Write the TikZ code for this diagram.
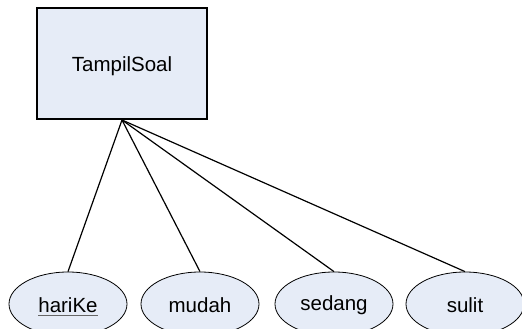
\documentclass[tikz,border=0pt]{standalone}
\usepackage{fontspec}
\setmainfont{Liberation Sans}
\usetikzlibrary{shapes.geometric}
\definecolor{boxfill}{HTML}{E6ECF7}
\definecolor{ulgray}{HTML}{666666}
\tikzset{
  entity/.style={draw=black, line width=2pt, fill=boxfill, minimum width=170pt, minimum height=111pt, inner sep=0pt, font=\fontsize{20.5}{24}\selectfont},
  attr/.style={ellipse, draw=black, line width=0.8pt, fill=boxfill, minimum width=118pt, minimum height=64pt, inner sep=0pt, font=\fontsize{20.5}{24}\selectfont},
  lbl/.style={inner sep=0pt, font=\fontsize{20.5}{24}\selectfont},
  link/.style={draw=black, line width=1.2pt}
}
\begin{document}
\begin{tikzpicture}[x=1pt,y=-1pt]
\useasboundingbox (0,0) rectangle (522,329);
\node[entity] (box) at (122,63.5) {};
\node[lbl] (boxt) at (122,66) {TampilSoal};
\node[attr] (h) at (68,304) {};
\node[lbl] (ht) at (68,305) {hariKe};
\draw[ulgray, line width=1.2pt] ([yshift=-3pt]ht.south west) -- ([yshift=-3pt]ht.south east);
\node[attr] (m) at (200,304) {};
\node[lbl] at (200,305) {mudah};
\node[attr] (s) at (334,304) {};
\node[lbl] at (334,305) {sedang};
\node[attr] (u) at (465,304) {};
\node[lbl] at (465,305) {sulit};
\draw[link] (box.south) -- (h.north);
\draw[link] (box.south) -- (m.north);
\draw[link] (box.south) -- (s.north);
\draw[link] (box.south) -- (u.north);
\end{tikzpicture}
\end{document}
